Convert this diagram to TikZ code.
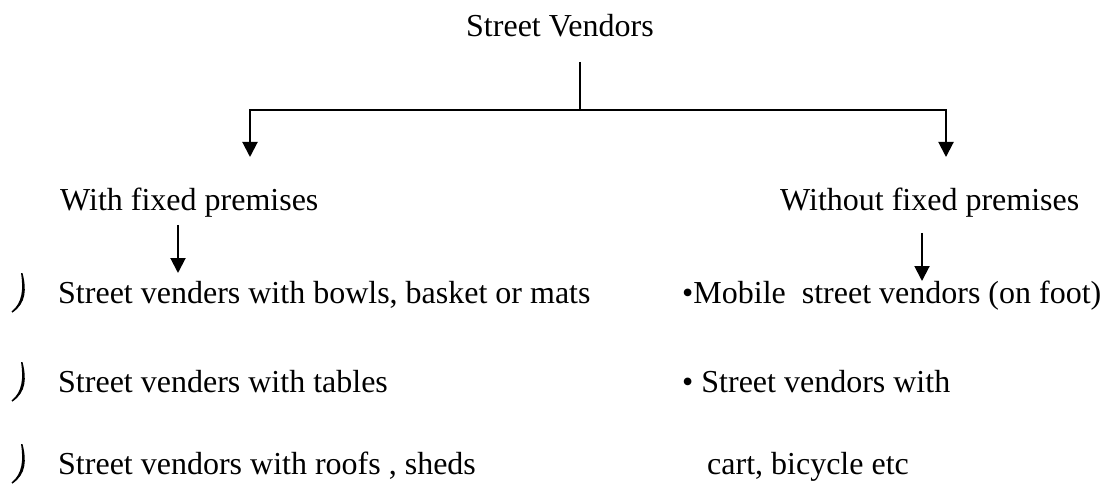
\documentclass[tikz,border=0pt]{standalone}
\usepackage{fontspec}
\setmainfont{Liberation Serif}
\usepackage{tikz}
\usetikzlibrary{arrows.meta}
\tikzset{
  txt/.style={font=\fontsize{32}{38}\selectfont, inner sep=0pt, anchor=base west},
  branch/.style={line width=2pt, draw=black},
  arrow/.style={-{Triangle[length=15pt,width=15pt]}, line width=2pt, draw=black},
  hook/.style={fill=black}
}

\begin{document}
\begin{tikzpicture}[x=1pt,y=-1pt]
  \useasboundingbox (0,0) rectangle (1110,486);
  \node[txt] (root) at (466,37) {Street Vendors};
  \node[txt] (fixed) at (60,211) {With fixed premises};
  \node[txt] (nofixed) at (780,211) {Without fixed premises};
  % with fixed premises
  \node[txt] (bowls) at (58,303) {Street venders with bowls, basket or mats};
  \node[txt] (tables) at (58,392) {Street venders with tables};
  \node[txt] (roofs) at (58,474) {Street vendors with roofs , sheds};
  % without fixed premises
  \node[txt] (foot) at (682,303) {•Mobile\ \ street vendors (on foot)};
  \node[txt] (cart) at (682,392) {• Street vendors with};
  \node[txt] (cycle) at (707,474) {cart, bicycle etc};
  % branch points
  \coordinate (top) at (580,62);
  \coordinate (split) at (580,110);
  \coordinate (lefttip) at (250,157);
  \coordinate (righttip) at (946,157);
  \coordinate (fixedfrom) at (178,225);
  \coordinate (fixedto) at (178,273);
  \coordinate (nofixedfrom) at (922,233);
  \coordinate (nofixedto) at (922,281);
  \draw[branch] (top) -- (split);
  \draw[arrow] (split) -| (lefttip);
  \draw[arrow] (split) -| (righttip);
  \draw[arrow] (fixedfrom) -- (fixedto);
  \draw[arrow] (nofixedfrom) -- (nofixedto);
  % bullet marks
  \foreach \y in {303,392,474}
    \fill[hook, shift={(0,\y)}] (22.5,-30) .. controls (26.5,-14) and (26.5,0) .. (12.5,9.5)
      -- (11.5,8.5) .. controls (22.5,0) and (23.5,-14) .. (21,-30) -- cycle;
\end{tikzpicture}
\end{document}
